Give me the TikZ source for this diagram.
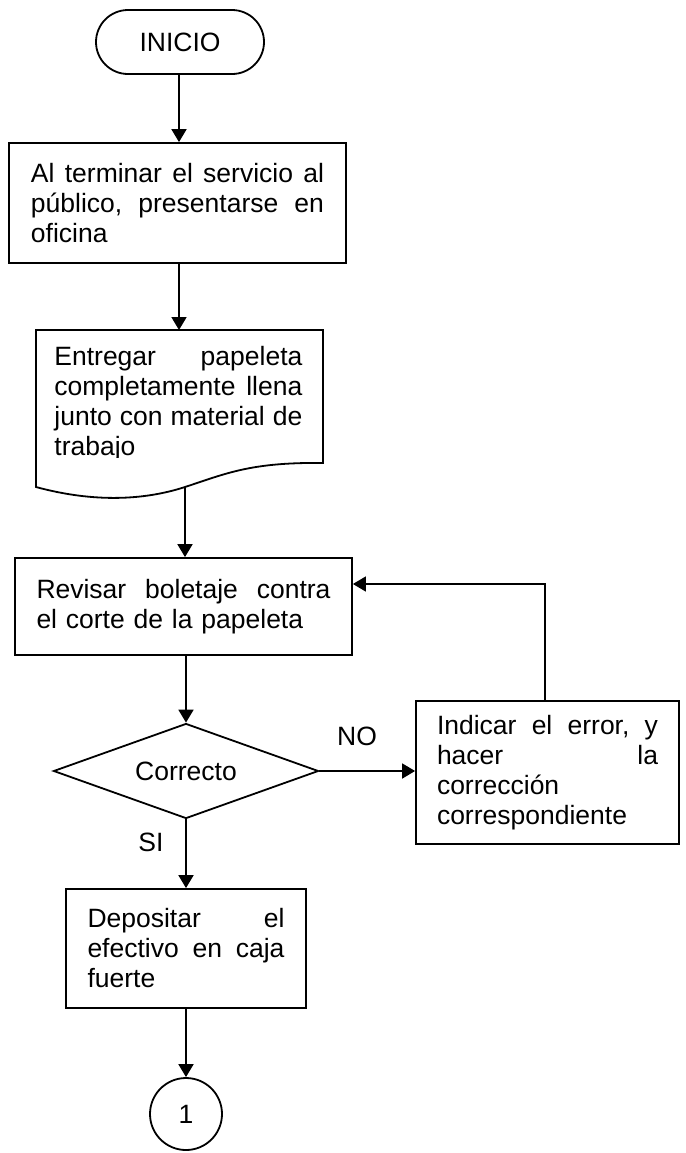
\documentclass[tikz,border=0pt]{standalone}
\usepackage{fontspec}
\setmainfont{Liberation Sans}
\usetikzlibrary{shapes.geometric,arrows.meta}
\newcommand{\jline}[2]{\leavevmode\hbox to #1{#2}}
\begin{document}
\begin{tikzpicture}[x=0.5pt,y=-0.5pt,
  every node/.style={font=\fontsize{13.25pt}{15pt}\selectfont},
  box/.style={draw, line width=0.9pt, inner sep=0pt, align=left},
  arr/.style={line width=0.9pt, -{Triangle[length=6.5pt,width=7.5pt]}},
  fback/.style={line width=0.75pt, -{Triangle[length=6.5pt,width=7.5pt]}},
  lbl/.style={inner sep=0pt}]
\useasboundingbox (0,0) rectangle (686,1153);

% terminal
\node[box, rounded corners=16pt, minimum width=84pt, minimum height=32pt] (inicio) at (180,42) {INICIO};

% first process
\node[box, minimum width=168.5pt, minimum height=60pt, text width=146.5pt] (box1) at (177.5,203)
  {\jline{146.5pt}{Al\hfill terminar\hfill el\hfill servicio\hfill al}\\
   \jline{146.5pt}{público,\hfill presentarse\hfill en}\\
   oficina};

% document shape
\draw[line width=0.9pt] (36,330) -- (323,330) -- (323,463)
  .. controls (250,462) and (225,474) .. (185,487)
  .. controls (145,500) and (95,503) .. (36,487) -- cycle;
\coordinate (doctop) at (179,330);
\coordinate (docbot) at (185,487);
\begin{scope}
  \clip (36,330) rectangle (323,457);
  \node[inner sep=0pt, anchor=base west, text width=124pt, align=left] (doctext) at (54,365)
    {\jline{124pt}{Entregar\hfill papeleta}\\
     \jline{124pt}{completamente\hfill llena}\\
     \jline{124pt}{junto\hfill con\hfill material\hfill de}\\
     trabajo};
\end{scope}

% review
\node[box, minimum width=168.5pt, minimum height=48.5pt, text width=147pt] (rev) at (183.5,606.5)
  {\jline{147pt}{Revisar\hfill boletaje\hfill contra}\\
   el corte de la papeleta};

% decision
\node[box, shape=diamond, shape aspect=2.8, minimum width=132.5pt, minimum height=47.5pt] (dia) at (186,771) {Correcto};

% correction
\node[box, minimum width=131.5pt, minimum height=71.5pt, text width=110.5pt] (ind) at (547.5,772.5)
  {\jline{110.5pt}{Indicar\hfill el\hfill error,\hfill y}\\
   \jline{110.5pt}{hacer\hfill la}\\
   corrección\\
   correspondiente};

% deposit
\node[box, minimum width=120pt, minimum height=59.5pt, text width=98.5pt] (dep) at (186,948.5)
  {\jline{98.5pt}{Depositar\hfill el}\\
   \jline{98.5pt}{efectivo\hfill en\hfill caja}\\
   fuerte};

% connector
\node[box, circle, minimum size=36pt] (c1) at (186,1114) {1};

% labels
\node[lbl] (no) at (357,736) {NO};
\node[lbl] (si) at (151,842) {SI};

% arrows
\draw[arr] (doctop |- inicio.south) -- (doctop |- box1.north);
\draw[arr] (doctop |- box1.south) -- (doctop);
\draw[arr] (docbot) -- (docbot |- rev.north);
\draw[arr] (dia.north |- rev.south) -- (dia.north);
\draw[arr] (dia.east) -- (dia.east -| ind.west);
\draw[arr] (dia.south) -- (dep.north);
\draw[arr] (dep.south) -- (c1.north);
\coordinate (fb) at (545,584);
\draw[fback] (fb |- ind.north) -- (fb) -- (fb -| rev.east);
\end{tikzpicture}
\end{document}
